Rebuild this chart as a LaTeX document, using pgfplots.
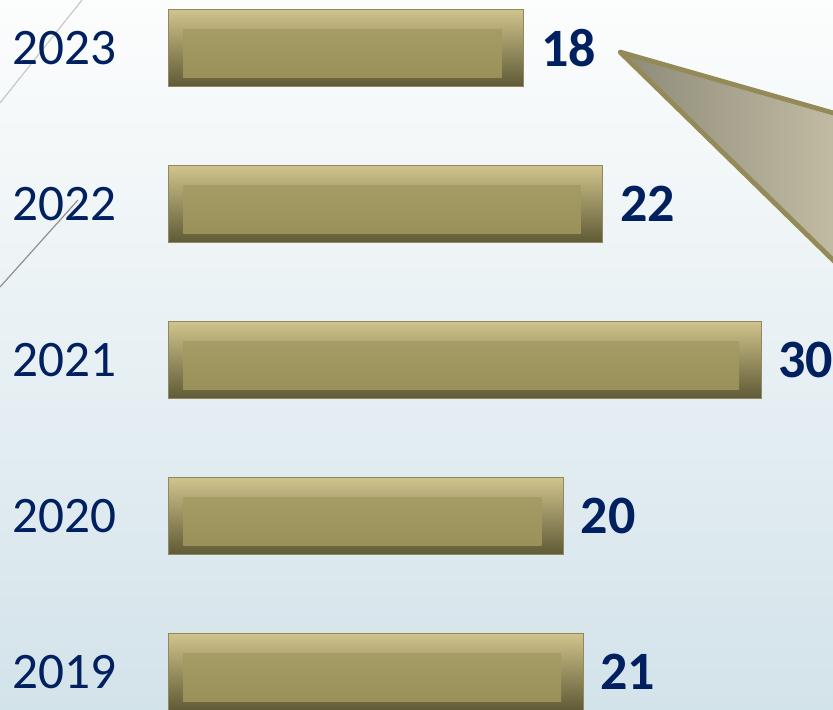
\documentclass[border=0pt]{standalone}
\usepackage{pgfplots}
\pgfplotsset{compat=1.18}
\usepackage{fontspec}
\setmainfont{Carlito}
\definecolor{navy}{HTML}{002060}
\definecolor{bgtop}{HTML}{FCFDFD}
\definecolor{bgbot}{HTML}{D3E3EA}
\definecolor{tria}{HTML}{8C8A78}
\definecolor{trib}{HTML}{D2CAB0}
\definecolor{tribord}{HTML}{938A57}
\definecolor{bevTop}{HTML}{D0C48C}
\definecolor{bevMid}{HTML}{A39963}
\definecolor{bevBot}{HTML}{5F5A36}
\definecolor{inTop}{HTML}{A59B65}
\definecolor{inBot}{HTML}{9A905A}
\definecolor{barEdge}{HTML}{8F8860}
\pgfplotsset{
  outerbar/.style={draw=barEdge, line width=0.4pt, top color=bevTop, middle color=bevMid, bottom color=bevBot, forget plot},
  innerbar/.style={draw=none, top color=inTop, bottom color=inBot, forget plot},
}
\begin{document}
\begin{tikzpicture}
\begin{scope}
\clip (0,0) rectangle (416.5pt,354.5pt);
\shade[top color=bgtop, bottom color=bgbot] (0,0) rectangle (416.5pt,354.5pt);
\draw[gray!70, line width=0.6pt, opacity=0.6] (0,303pt) -- (41pt,354.5pt);
\draw[gray!80!black, line width=0.6pt, opacity=0.7] (0,211pt) -- (39pt,254.5pt);
\filldraw[left color=tria, right color=trib, draw=tribord, line width=2.4pt, line join=round]
  (310pt,328.5pt) -- (450pt,288.5pt) -- (450pt,191.75pt) -- cycle;
\begin{axis}[
  at={(84pt,18.5pt)}, anchor=south west,
  scale only axis, width=296.5pt, height=312pt,
  xmin=0, xmax=30, ymin=0, ymax=4, clip=false,
  xbar, bar width=38.5pt, bar shift=0pt,
  hide x axis, axis y line*=left, y axis line style={draw=none},
  ytick={0,1,2,3,4}, yticklabels={2019,2020,2021,2022,2023},
  ytick style={draw=none}, major tick length=0pt,
  yticklabel style={font=\fontsize{25.6}{30}\selectfont, text=navy, anchor=east, inner sep=0pt, xshift=-25.5pt},
  nodes near coords,
  nodes near coords style={font=\bfseries\fontsize{27}{32}\selectfont, text=navy, anchor=west, inner sep=0pt, xshift=8.5pt},
  /pgf/number format/assume math mode=true,
]
\addplot[outerbar] coordinates {(21,0)};
\addplot[outerbar] coordinates {(20,1)};
\addplot[outerbar] coordinates {(30,2)};
\addplot[outerbar] coordinates {(22,3)};
\addplot[outerbar] coordinates {(18,4)};
\end{axis}
\begin{axis}[
  at={(91.5pt,18.5pt)}, anchor=south west,
  scale only axis, width=296.5pt, height=312pt,
  xmin=0, xmax=30, ymin=0, ymax=4, clip=false,
  xbar, bar width=24pt, bar shift=-2.5pt, hide axis,
]
\addplot[innerbar] coordinates {(19.13,0)};
\addplot[innerbar] coordinates {(18.13,1)};
\addplot[innerbar] coordinates {(28.13,2)};
\addplot[innerbar] coordinates {(20.13,3)};
\addplot[innerbar] coordinates {(16.13,4)};
\end{axis}
\end{scope}
\pgfresetboundingbox
\path[use as bounding box] (0,0) rectangle (416.5pt,354.5pt);
\end{tikzpicture}
\end{document}
